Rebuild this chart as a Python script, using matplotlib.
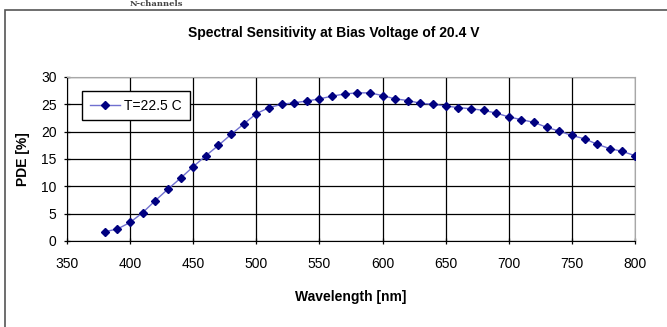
import numpy as np
import matplotlib
matplotlib.use('Agg')
import matplotlib.pyplot as plt
from matplotlib.patches import Rectangle

# wavelength [nm] and PDE [%]
wavelength = [380, 390, 400, 410, 420, 430, 440, 450, 460, 470,
              480, 490, 500, 510, 520, 530, 540, 550, 560, 570,
              580, 590, 600, 610, 620, 630, 640, 650, 660, 670,
              680, 690, 700, 710, 720, 730, 740, 750, 760, 770,
              780, 790, 800]
pde = [1.7, 2.2, 3.4, 5.2, 7.4, 9.5, 11.5, 13.6, 15.6, 17.5,
       19.5, 21.4, 23.3, 24.4, 25.0, 25.3, 25.6, 26.0, 26.5, 26.9,
       27.1, 27.1, 26.6, 26.0, 25.7, 25.2, 25.0, 24.7, 24.4, 24.2,
       23.9, 23.4, 22.7, 22.2, 21.7, 20.8, 20.1, 19.3, 18.7, 17.7,
       16.9, 16.4, 15.6]
series_label = 'T=22.5 C'
x_ticks = [350, 400, 450, 500, 550, 600, 650, 700, 750, 800]
y_ticks = [0, 5, 10, 15, 20, 25, 30]

plt.rcParams['font.family'] = ['Liberation Sans', 'DejaVu Sans']

fig = plt.figure(figsize=(6.67, 3.27), dpi=100)
fig.patch.set_facecolor('white')

# outer chart frame (top and left edges visible, rest runs off the page)
fig.add_artist(Rectangle((5 / 667, -0.1), 1.2, 1.1 - 10 / 327,
                         transform=fig.transFigure, fill=False,
                         edgecolor='#555555', linewidth=1.2))
# document heading above the chart (mostly cropped in the original)
fig.text(130 / 667, 1 - 4 / 327, 'N-channels', family='DejaVu Serif',
         weight='bold', fontsize=6, color='#444444', va='center', ha='left')

ax = fig.add_axes([67 / 667, 1 - 241 / 327, (635 - 67) / 667, (241 - 77) / 327])
ax.plot(wavelength, pde, color='#7070d0', linewidth=1.0, marker='D',
        markersize=4.5, markerfacecolor='#000080', markeredgecolor='#000080',
        label=series_label, zorder=3)

ax.set_xlim(350, 800)
ax.set_ylim(0, 30)
ax.set_xticks(x_ticks)
ax.set_yticks(y_ticks)
ax.grid(True, color='black', linewidth=0.9)
ax.set_axisbelow(True)
ax.tick_params(axis='both', direction='inout', length=5, width=0.9,
               labelsize=10, color='black')
ax.tick_params(axis='x', pad=9)
ax.tick_params(axis='y', pad=5)
for side in ['top', 'right']:
    ax.spines[side].set_color('#a8a8a8')
for side in ['left', 'bottom']:
    ax.spines[side].set_color('black')

ax.set_xlabel('Wavelength [nm]', fontsize=10, weight='bold', labelpad=14)
ax.set_ylabel('PDE [%]', fontsize=10, weight='bold', labelpad=8)

leg = ax.legend(loc='upper left', bbox_to_anchor=(15 / 568, 1 - 14 / 164),
                fontsize=10, frameon=True, fancybox=False, framealpha=1,
                edgecolor='black', handlelength=2.2, borderpad=0.55,
                handletextpad=0.3, borderaxespad=0)
leg.get_frame().set_linewidth(1.0)

fig.text(0.5, 1 - 33 / 327, 'Spectral Sensitivity at Bias Voltage of 20.4 V',
         ha='center', va='center', fontsize=10, weight='bold')

fig.savefig('out.png', dpi=100, facecolor='white')
